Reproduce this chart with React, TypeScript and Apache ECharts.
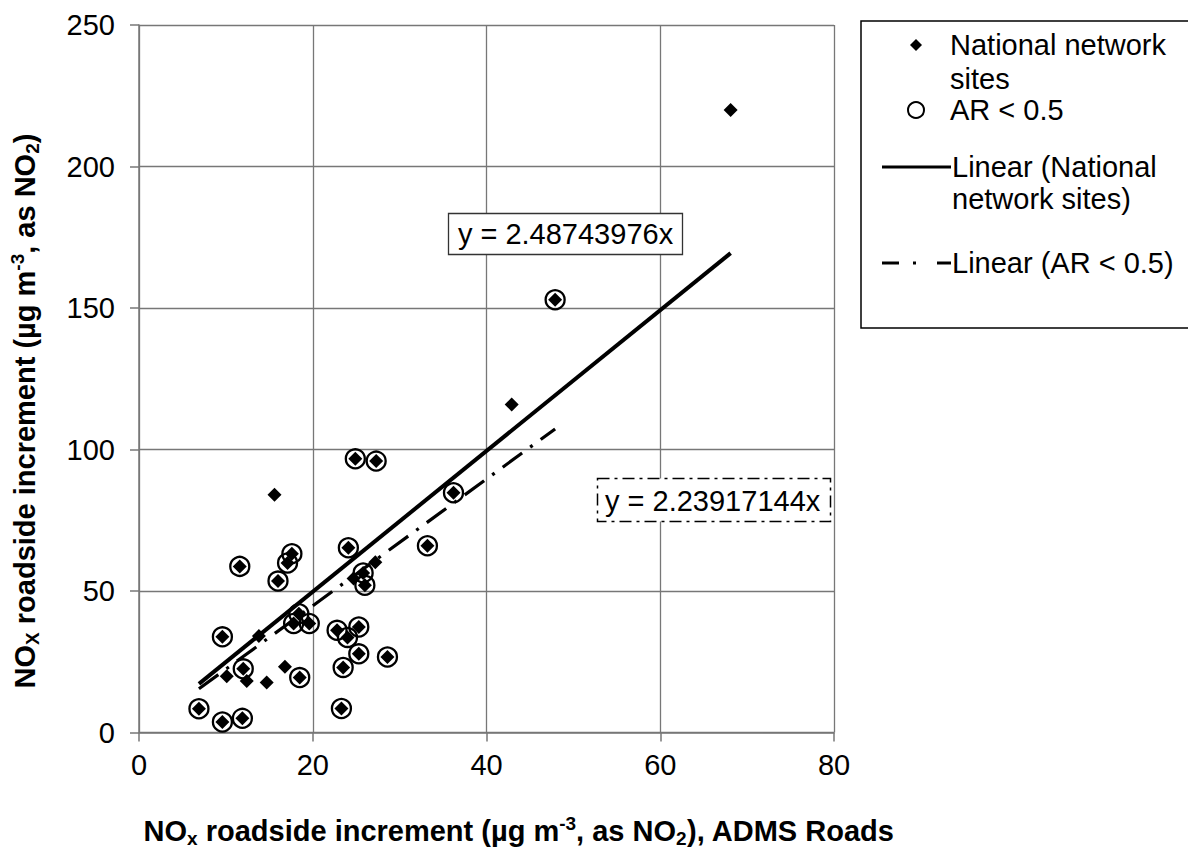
import React, { useEffect, useRef } from "react";
import * as echarts from "echarts";

// ---- data ----
const xTicks = [0, 20, 40, 60, 80];
const yTicks = [0, 50, 100, 150, 200, 250];

// National network sites with AR < 0.5 (circled)
const arSites: [number, number][] = [
  [6.9, 8.4], [9.6, 3.7], [11.9, 5.0], [9.6, 33.8], [12.0, 22.5], [11.6, 58.7],
  [16.0, 53.5], [17.1, 59.9], [17.6, 63.2], [17.8, 38.5], [18.4, 42.0], [19.6, 38.5],
  [18.5, 19.4], [22.8, 36.1], [24.0, 33.6], [25.3, 37.3], [25.3, 27.8], [28.6, 26.7],
  [23.5, 23.0], [23.3, 8.5], [24.1, 65.3], [25.8, 56.4], [26.0, 52.0], [33.2, 66.0],
  [24.9, 96.7], [27.3, 95.9], [36.2, 84.7], [47.9, 152.9],
];
// remaining National network sites
const otherSites: [number, number][] = [
  [10.1, 19.9], [12.4, 18.2], [14.7, 17.7], [13.8, 34.1], [16.8, 23.2],
  [15.6, 84.0], [24.7, 54.4], [27.2, 60.2], [42.9, 115.9], [68.1, 220.0],
];
const allSites: [number, number][] = [...arSites, ...otherSites];

const slopeAll = 2.48743976;
const slopeAr = 2.23917144;

const seriesNames = ["National network sites", "AR < 0.5", "Linear (National network sites)", "Linear (AR < 0.5)"];

function trend(points: [number, number][], slope: number): [number, number][] {
  const xs = points.map((p) => p[0]);
  const lo = Math.min(...xs);
  const hi = Math.max(...xs);
  return [[lo, lo * slope], [hi, hi * slope]];
}

const FONT = '"Liberation Sans", Arial, Helvetica, sans-serif';
const FS = 29;
const GRID_COLOR = "#777777";

const titleRich = {
  b: { fontSize: FS, fontWeight: "bold", fontFamily: FONT, lineHeight: 34, fill: "#000" },
  sub: { fontSize: 19, fontWeight: "bold", fontFamily: FONT, lineHeight: 20, verticalAlign: "bottom", fill: "#000" },
  sup: { fontSize: 19, fontWeight: "bold", fontFamily: FONT, lineHeight: 16, verticalAlign: "top", fill: "#000" },
};

const plainText = (x: number, y: number, text: string, align = "left") => ({
  type: "text",
  x,
  y,
  z: 20,
  style: { text, fontSize: FS, fontFamily: FONT, fill: "#000", align, verticalAlign: "middle" },
});

const option: any = {
  animation: false,
  backgroundColor: "#ffffff",
  grid: { left: 139, top: 25, width: 695, height: 707.5, containLabel: false },
  xAxis: {
    type: "value",
    min: xTicks[0],
    max: xTicks[xTicks.length - 1],
    interval: xTicks[1] - xTicks[0],
    axisLine: { show: true, lineStyle: { color: GRID_COLOR, width: 1.5 } },
    axisTick: { show: true, length: 9, lineStyle: { color: GRID_COLOR, width: 1.5 } },
    splitLine: { show: true, lineStyle: { color: GRID_COLOR, width: 1.3 } },
    axisLabel: { fontSize: FS, fontFamily: FONT, color: "#000", margin: 18 },
  },
  yAxis: {
    type: "value",
    min: yTicks[0],
    max: yTicks[yTicks.length - 1],
    interval: yTicks[1] - yTicks[0],
    axisLine: { show: true, lineStyle: { color: GRID_COLOR, width: 1.5 } },
    axisTick: { show: true, length: 9, lineStyle: { color: GRID_COLOR, width: 1.5 } },
    splitLine: { show: true, lineStyle: { color: GRID_COLOR, width: 1.3 } },
    axisLabel: { fontSize: FS, fontFamily: FONT, color: "#000", margin: 24 },
  },
  series: [
    {
      name: seriesNames[0],
      type: "scatter",
      data: allSites,
      symbol: "diamond",
      symbolSize: 14,
      itemStyle: { color: "#000", opacity: 1 },
      silent: true,
      z: 2,
    },
    {
      name: seriesNames[1],
      type: "scatter",
      data: arSites,
      symbol: "circle",
      symbolSize: 19,
      itemStyle: { color: "rgba(0,0,0,0)", borderColor: "#000", borderWidth: 2.3, opacity: 1 },
      silent: true,
      z: 3,
    },
    {
      name: seriesNames[2],
      type: "line",
      data: trend(allSites, slopeAll),
      symbol: "none",
      lineStyle: { color: "#000", width: 4 },
      silent: true,
      z: 4,
    },
    {
      name: seriesNames[3],
      type: "line",
      data: trend(arSites, slopeAr),
      symbol: "none",
      lineStyle: { color: "#000", width: 3.2, type: [24, 10, 3, 10] },
      silent: true,
      z: 4,
    },
  ],
  graphic: [
    // y axis title
    {
      type: "text",
      x: 25,
      y: 411,
      rotation: Math.PI / 2,
      z: 20,
      style: {
        text: "{b|NO}{sub|X}{b| roadside increment (µg m}{sup|-3}{b|, as NO}{sub|2}{b|)}",
        rich: titleRich,
        align: "center",
        verticalAlign: "middle",
      },
    },
    // x axis title
    {
      type: "text",
      x: 519,
      y: 831,
      z: 20,
      style: {
        text: "{b|NO}{sub|x}{b| roadside increment (µg m}{sup|-3}{b|, as NO}{sub|2}{b|), ADMS Roads}",
        rich: titleRich,
        align: "center",
        verticalAlign: "middle",
      },
    },
    // equation label for all sites
    {
      type: "rect",
      z: 15,
      shape: { x: 448.5, y: 213.5, width: 234, height: 41 },
      style: { fill: "#fff", stroke: "#333", lineWidth: 1.3 },
    },
    plainText(565.5, 234, `y = ${slopeAll}x`, "center"),
    // equation label for AR < 0.5
    {
      type: "rect",
      z: 15,
      shape: { x: 597.5, y: 478.5, width: 233, height: 43 },
      style: { fill: "#fff", stroke: "#000", lineWidth: 1.5, lineDash: [12, 5, 3, 5] },
    },
    plainText(605, 501, `y = ${slopeAr}x`),
    // legend box
    {
      type: "rect",
      z: 15,
      shape: { x: 861, y: 21, width: 340, height: 307 },
      style: { fill: "#fff", stroke: "#000", lineWidth: 1.5 },
    },
    {
      type: "polygon",
      z: 20,
      shape: { points: [[916, 39], [922, 45], [916, 51], [910, 45]] },
      style: { fill: "#000" },
    },
    plainText(950, 45, "National network"),
    plainText(950, 79, "sites"),
    {
      type: "circle",
      z: 20,
      shape: { cx: 916, cy: 110, r: 8 },
      style: { fill: "none", stroke: "#000", lineWidth: 2 },
    },
    plainText(950, 110, seriesNames[1]),
    {
      type: "line",
      z: 20,
      shape: { x1: 882, y1: 167, x2: 951, y2: 167 },
      style: { stroke: "#000", lineWidth: 3 },
    },
    plainText(952, 167, "Linear (National"),
    plainText(952, 199, "network sites)"),
    {
      type: "line",
      z: 20,
      shape: { x1: 882, y1: 263, x2: 899, y2: 263 },
      style: { stroke: "#000", lineWidth: 3 },
    },
    {
      type: "line",
      z: 20,
      shape: { x1: 913, y1: 263, x2: 916, y2: 263 },
      style: { stroke: "#000", lineWidth: 3 },
    },
    {
      type: "line",
      z: 20,
      shape: { x1: 937, y1: 263, x2: 951, y2: 263 },
      style: { stroke: "#000", lineWidth: 3 },
    },
    plainText(952, 263, seriesNames[3]),
  ],
};

export default function App() {
  const ref = useRef<HTMLDivElement>(null);
  useEffect(() => {
    if (!ref.current) return;
    const chart = echarts.init(ref.current, null, { renderer: "svg" });
    chart.setOption(option);
    return () => chart.dispose();
  }, []);
  return (
    <div
      ref={ref}
      style={{ position: "absolute", left: 0, top: 0, width: 1188, height: 850, background: "#fff" }}
    />
  );
}
